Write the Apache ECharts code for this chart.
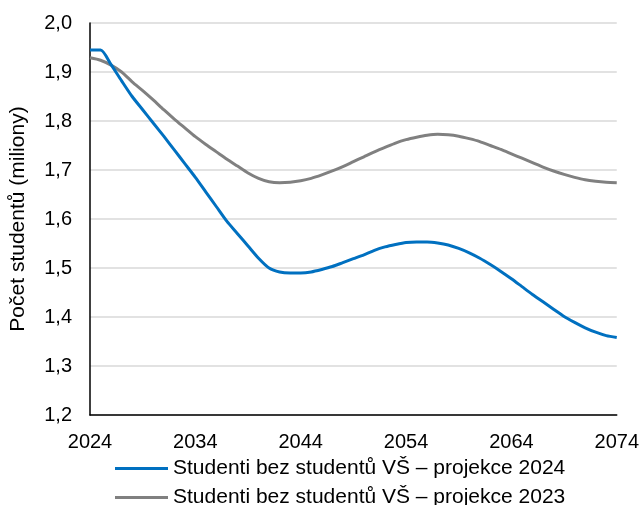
<!DOCTYPE html>
<html>
<head>
<meta charset="utf-8">
<script src="https://cdn.jsdelivr.net/npm/echarts@6/dist/echarts.min.js"></script>
<style>html,body{margin:0;padding:0;background:#fff}#c{width:642px;height:505px}</style>
</head>
<body>
<div id="c"></div>
<script>
const years = [];
for (let y = 2024; y <= 2074; y++) years.push(String(y));

const seriesNames = [
  'Studenti bez studentů VŠ – projekce 2024',
  'Studenti bez studentů VŠ – projekce 2023'
];

const proj2024 = [
  1.945, 1.945, 1.915, 1.882, 1.850, 1.823, 1.796, 1.769, 1.741, 1.713,
  1.685, 1.655, 1.625, 1.595, 1.570, 1.545, 1.520, 1.500, 1.492, 1.490,
  1.490, 1.492, 1.497, 1.503, 1.511, 1.519, 1.527, 1.536, 1.543, 1.548,
  1.552, 1.553, 1.553, 1.551, 1.547, 1.540, 1.531, 1.520, 1.507, 1.493,
  1.478, 1.462, 1.446, 1.431, 1.416, 1.401, 1.389, 1.378, 1.369, 1.362,
  1.358
];

const proj2023 = [
  1.929, 1.924, 1.914, 1.900, 1.880, 1.862, 1.843, 1.823, 1.804, 1.786,
  1.768, 1.752, 1.737, 1.722, 1.708, 1.694, 1.683, 1.676, 1.674, 1.675,
  1.678, 1.683, 1.690, 1.698, 1.707, 1.717, 1.727, 1.737, 1.746, 1.755,
  1.762, 1.767, 1.771, 1.773, 1.772, 1.769, 1.764, 1.758, 1.750, 1.742,
  1.733, 1.724, 1.715, 1.706, 1.698, 1.691, 1.685, 1.680, 1.677, 1.675,
  1.674
];

const yAxisTitle = 'Počet studentů (miliony)';
const font = 'Liberation Sans, Arial, sans-serif';
const colors = ['#0070C0', '#808080'];

function legendFor(i, top) {
  return {
    show: true,
    orient: 'horizontal',
    left: 115,
    top: top,
    padding: 0,
    icon: 'rect',
    itemWidth: 53,
    itemHeight: 3,
    textStyle: {fontSize: 21, color: '#000', fontFamily: font, padding: [0, 0, 0, 0]},
    data: [seriesNames[i]]
  };
}

const chart = echarts.init(document.getElementById('c'), null, {renderer: 'canvas'});
chart.setOption({
  animation: false,
  backgroundColor: '#fff',
  textStyle: {fontFamily: font},
  grid: {left: 90, right: 24, top: 23, bottom: 90, containLabel: false},
  legend: [legendFor(0, 458), legendFor(1, 487)],
  xAxis: {
    type: 'category',
    data: years,
    boundaryGap: false,
    axisLine: {lineStyle: {color: '#000', width: 1.5}},
    axisTick: {show: false},
    axisLabel: {
      interval: 9,
      margin: 17,
      fontSize: 20,
      color: '#000',
      fontFamily: font,
      showMaxLabel: true
    },
    splitLine: {show: false}
  },
  yAxis: {
    type: 'value',
    min: 1.2,
    max: 2.0,
    interval: 0.1,
    name: yAxisTitle,
    nameLocation: 'middle',
    nameGap: 61,
    nameTextStyle: {fontSize: 21, color: '#000', fontFamily: font},
    axisLine: {show: true, lineStyle: {color: '#000', width: 1.5}},
    axisTick: {show: false},
    axisLabel: {
      margin: 18,
      fontSize: 20,
      color: '#000',
      fontFamily: font,
      formatter: v => v.toFixed(1).replace('.', ',')
    },
    splitLine: {show: true, lineStyle: {color: '#d9d9d9', width: 1.5}}
  },
  series: [
    {
      name: seriesNames[0],
      type: 'line',
      data: proj2024,
      symbol: 'none',
      smooth: 0.25,
      lineStyle: {color: colors[0], width: 3},
      itemStyle: {color: colors[0]},
      z: 3
    },
    {
      name: seriesNames[1],
      type: 'line',
      data: proj2023,
      symbol: 'none',
      smooth: 0.25,
      lineStyle: {color: colors[1], width: 3},
      itemStyle: {color: colors[1]},
      z: 2
    }
  ]
});
</script>
</body>
</html>
